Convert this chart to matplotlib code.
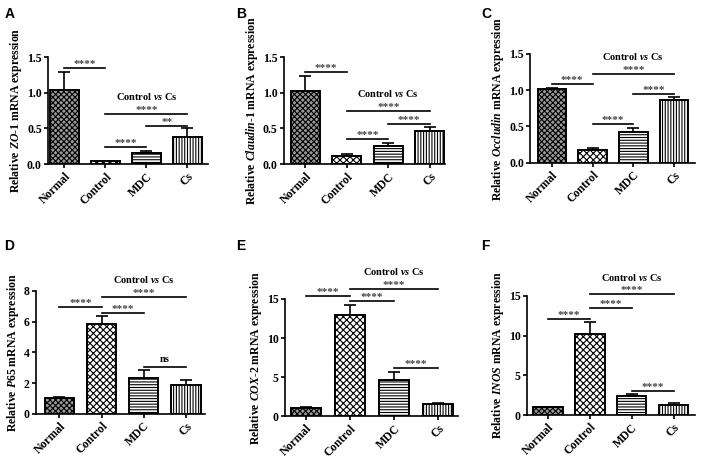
import matplotlib
matplotlib.use("Agg")
import matplotlib.pyplot as plt

plt.rcParams['font.family'] = ['Liberation Serif', 'DejaVu Serif']
plt.rcParams['font.weight'] = 'bold'
plt.rcParams['axes.labelweight'] = 'bold'
plt.rcParams['mathtext.fontset'] = 'custom'
plt.rcParams['mathtext.it'] = 'Liberation Serif:bold:italic'
plt.rcParams['mathtext.rm'] = 'Liberation Serif:bold'
plt.rcParams['mathtext.bf'] = 'Liberation Serif:bold'
plt.rcParams['hatch.linewidth'] = 0.8

groups = ['Normal', 'Control', 'MDC', 'Cs']

zo1_mean = [1.04, 0.045, 0.15, 0.38]
zo1_err = [0.25, 0.005, 0.03, 0.12]
claudin_mean = [1.03, 0.12, 0.26, 0.47]
claudin_err = [0.21, 0.02, 0.03, 0.05]
occludin_mean = [1.01, 0.175, 0.42, 0.87]
occludin_err = [0.02, 0.035, 0.06, 0.03]
p65_mean = [1.05, 5.85, 2.35, 1.9]
p65_err = [0.04, 0.5, 0.48, 0.32]
cox2_mean = [1.1, 12.95, 4.65, 1.5]
cox2_err = [0.05, 1.3, 0.95, 0.2]
inos_mean = [1.0, 10.25, 2.45, 1.32]
inos_err = [0.05, 1.45, 0.2, 0.15]

# significance brackets: (from, to, height, label)
zo1_sig = [(0, 1, 1.35, '****'), (1, 3, 0.71, '****'), (2, 3, 0.53, '**'), (1, 2, 0.24, '****')]
claudin_sig = [(0, 1, 1.29, '****'), (1, 3, 0.75, '****'), (2, 3, 0.56, '****'), (1, 2, 0.355, '****')]
occludin_sig = [(0, 1, 1.09, '****'), (1, 3, 1.23, '****'), (2, 3, 0.95, '****'), (1, 2, 0.54, '****')]
p65_sig = [(0, 1, 6.97, '****'), (1, 3, 7.58, '****'), (1, 2, 6.58, '****'), (2, 3, 3.05, 'ns')]
cox2_sig = [(0, 1, 15.4, '****'), (1, 3, 16.3, '****'), (1, 2, 14.7, '****'), (2, 3, 6.2, '****')]
inos_sig = [(0, 1, 12.1, '****'), (1, 3, 15.2, '****'), (1, 2, 13.5, '****'), (2, 3, 3.0, '****')]

panels = [
    ('A', r'Relative $\mathit{ZO}$-$\mathit{1}$ mRNA expression', zo1_mean, zo1_err, zo1_sig,
     [0.0678, 0.647, 0.226, 0.230], (-0.4, 3.5), 1.5, [0, 0.5, 1.0, 1.5], '%.1f'),
    ('B', r'Relative $\mathit{Claudin}$-$\mathit{1}$ mRNA expression', claudin_mean, claudin_err, claudin_sig,
     [0.401, 0.647, 0.227, 0.230], (-0.52, 3.36), 1.5, [0, 0.5, 1.0, 1.5], '%.1f'),
    ('C', r'Relative $\mathit{Occludin}$ mRNA expression', occludin_mean, occludin_err, occludin_sig,
     [0.749, 0.650, 0.233, 0.234], (-0.53, 3.52), 1.5, [0, 0.5, 1.0, 1.5], '%.1f'),
    ('D', r'Relative $\mathit{P65}$ mRNA expression', p65_mean, p65_err, p65_sig,
     [0.051, 0.110, 0.239, 0.2645], (-0.55, 3.46), 8, [0, 2, 4, 6, 8], '%d'),
    ('E', r'Relative $\mathit{COX}$-$\mathit{2}$ mRNA expression', cox2_mean, cox2_err, cox2_sig,
     [0.4025, 0.105, 0.244, 0.252], (-0.48, 3.45), 15, [0, 5, 10, 15], '%d'),
    ('F', r'Relative $\mathit{INOS}$ mRNA expression', inos_mean, inos_err, inos_sig,
     [0.744, 0.1075, 0.237, 0.256], (-0.51, 3.5), 15, [0, 5, 10, 15], '%d'),
]

letter_pos = {'A': (0.006, 0.985), 'B': (0.334, 0.985), 'C': (0.680, 0.985),
              'D': (0.006, 0.485), 'E': (0.334, 0.485), 'F': (0.680, 0.485)}

faces = ['#9a9a9a', 'white', 'white', 'white']
hatches = ['xxxxxx', 'xxxxx', '------', '||||||']

fig = plt.figure(figsize=(7.08, 4.65), dpi=100)

for letter, ylabel, mean, err, sig, rect, xlim, ytop, yticks, fmt in panels:
    ax = fig.add_axes(rect)
    x = range(len(groups))
    ax.bar(x, mean, width=0.7, color=faces, edgecolor='black', hatch=hatches,
           linewidth=1.4, zorder=2)
    ax.errorbar(x, mean, yerr=[[0] * 4, err], fmt='none', ecolor='black',
                elinewidth=1.2, capsize=4, capthick=1.2, zorder=1)
    ax.set_xlim(*xlim)
    ax.set_ylim(0, ytop)
    ax.set_yticks(yticks)
    ax.set_yticklabels([fmt % t for t in yticks])
    ax.set_xticks(list(x))
    ax.set_xticklabels(groups, rotation=45, ha='right', rotation_mode='anchor')
    ax.spines['top'].set_visible(False)
    ax.spines['right'].set_visible(False)
    ax.spines['left'].set_linewidth(1.2)
    ax.spines['bottom'].set_linewidth(1.2)
    ax.tick_params(axis='both', labelsize=8.5, width=1.2, length=3, pad=1.5)
    ax.set_ylabel(ylabel, fontsize=8.5, labelpad=2)

    for i, j, h, lab in sig:
        ax.plot([i, j], [h, h], color='black', lw=1.2, clip_on=False)
        cx = (i + j) / 2
        if lab == 'ns':
            ax.annotate(lab, (cx, h), xytext=(0, 5.5), textcoords='offset points',
                        ha='center', va='center', fontsize=7.5, annotation_clip=False)
        else:
            ax.annotate(lab, (cx, h), xytext=(0, 2.5), textcoords='offset points',
                        ha='center', va='center', fontsize=8, color='#444444',
                        annotation_clip=False)
        if i == 1 and j == 3:
            ax.annotate(r'Control $\mathit{vs}$ Cs', (cx, h), xytext=(0, 12.5),
                        textcoords='offset points', ha='center', va='center',
                        fontsize=7.5, annotation_clip=False)

    lx, ly = letter_pos[letter]
    fig.text(lx, ly, letter, fontsize=10, fontweight='bold', family='Liberation Sans',
             ha='left', va='top')

fig.savefig('out.png', dpi=100)
